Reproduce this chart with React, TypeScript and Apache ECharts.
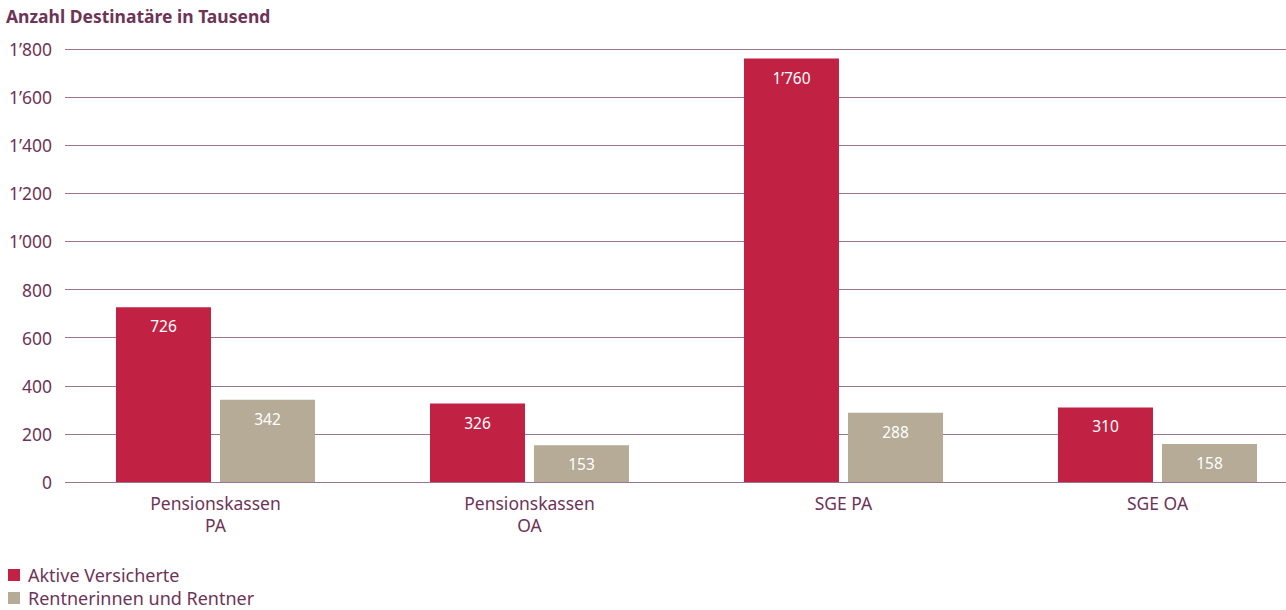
import React, { useEffect, useRef } from "react";
import * as echarts from "echarts";

const categories = ["Pensionskassen\nPA", "Pensionskassen\nOA", "SGE PA", "SGE OA"];
const aktive = [726, 326, 1760, 310];
const rentner = [342, 153, 288, 158];
const seriesNames = ["Aktive Versicherte", "Rentnerinnen und Rentner"];
const titleText = "Anzahl Destinatäre in Tausend";
const yMin = 0;
const yMax = 1800;
const yStep = 200;

const fmt = (v: number) => {
  const s = String(Math.round(v));
  return s.replace(/\B(?=(\d{3})+(?!\d))/g, "\u2019");
};

const FONT = "Noto Sans";
const PURPLE = "#6e3457";
const RED = "#c12142";
const GREY = "#b5ab96";

export default function App() {
  const ref = useRef<HTMLDivElement>(null);
  useEffect(() => {
    document.body.style.margin = "0";
    const chart = echarts.init(ref.current!, null, { renderer: "svg" });
    const legendBase = {
      orient: "horizontal",
      left: 8,
      padding: 0,
      icon: "rect",
      itemWidth: 12,
      itemHeight: 12,
      textStyle: { fontFamily: FONT, fontSize: 18, lineHeight: 18, color: PURPLE, padding: [0, 0, 0, 3] },
    };
    const labelCfg = {
      show: true,
      position: "insideTop",
      distance: 11,
      color: "#ffffff",
      fontFamily: FONT,
      fontSize: 15.5,
      formatter: (p: any) => fmt(p.value),
    };
    chart.setOption({
      animation: false,
      textStyle: { fontFamily: FONT },
      title: {
        text: titleText,
        left: 6,
        top: 7,
        padding: 0,
        textStyle: { fontFamily: FONT, fontSize: 17.5, fontWeight: "bold", color: PURPLE },
      },
      legend: [
        { ...legendBase, top: 566, data: [seriesNames[0]] },
        { ...legendBase, top: 589, data: [seriesNames[1]] },
      ],
      grid: [
        {
          left: 65,
          right: 0,
          top: 49,
          bottom: 128,
          containLabel: false,
          outerBoundsMode: "none",
        },
        {
          left: 58.5,
          width: 1256,
          top: 49,
          bottom: 128,
          containLabel: false,
          outerBoundsMode: "none",
        },
      ],
      xAxis: [
        {
          gridIndex: 0,
          type: "value",
          show: false,
          min: 0,
          max: 1,
        },
        {
          gridIndex: 1,
          type: "category",
          data: categories,
          axisLine: { show: false },
          axisTick: { show: false },
          axisLabel: {
            fontFamily: FONT,
            fontSize: 17.5,
            color: PURPLE,
            margin: 10,
            lineHeight: 22,
          },
        },
      ],
      yAxis: [
        {
          gridIndex: 0,
          type: "value",
          min: yMin,
          max: yMax,
          interval: yStep,
          axisLine: { show: false },
          axisTick: { show: false },
          splitLine: { lineStyle: { color: "#9b7690", width: 1 } },
          axisLabel: {
            fontFamily: FONT,
            fontSize: 17.5,
            color: PURPLE,
            margin: 13,
            formatter: (v: number) => fmt(v),
          },
        },
        {
          gridIndex: 1,
          type: "value",
          min: yMin,
          max: yMax,
          interval: yStep,
          show: false,
          splitLine: { show: false },
        },
      ],
      series: [
        {
          name: seriesNames[0],
          type: "bar",
          xAxisIndex: 1,
          yAxisIndex: 1,
          data: aktive,
          barWidth: 95,
          barGap: "9.5%",
          itemStyle: { color: RED },
          label: labelCfg,
        },
        {
          name: seriesNames[1],
          type: "bar",
          xAxisIndex: 1,
          yAxisIndex: 1,
          data: rentner,
          barWidth: 95,
          barGap: "9.5%",
          itemStyle: { color: GREY },
          label: labelCfg,
        },
      ],
    });
    return () => chart.dispose();
  }, []);
  return <div ref={ref} style={{ position: "absolute", left: 0, top: 0, width: 1286, height: 610, overflow: "hidden" }} />;
}
